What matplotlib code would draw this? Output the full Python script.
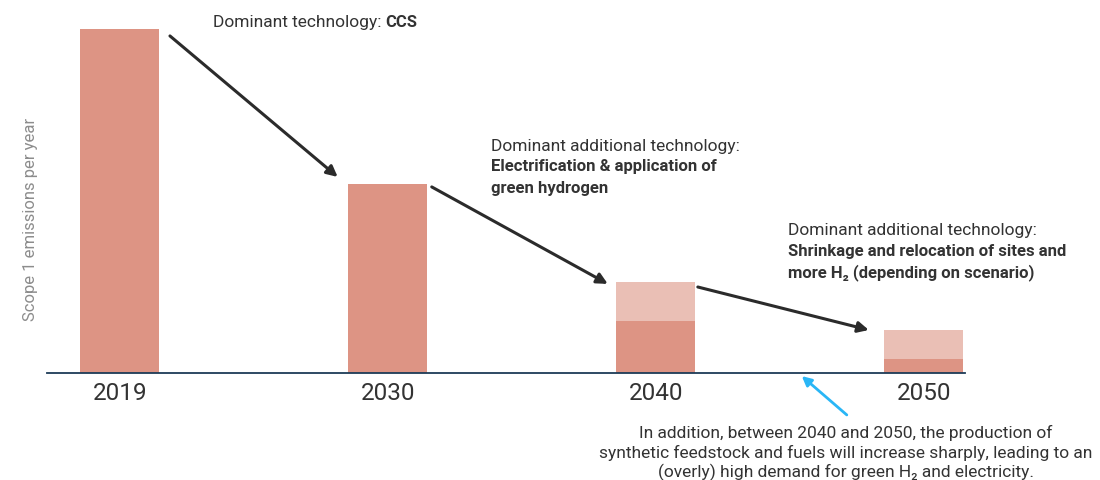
import numpy as np
import matplotlib.pyplot as plt

plt.rcParams['font.family'] = ['Roboto', 'DejaVu Sans']

# data (2019 = 100)
years = ["2019", "2030", "2040", "2050"]
base = [100, 55, 15, 4]
upper = [0, 0, 11.5, 8.5]   # scenario-dependent extra on top

dark = "#dd9484"
light = "#eabfb5"
txt = "#333333"

fig = plt.figure(figsize=(11, 4.81), dpi=100)
ax = fig.add_axes([0.0427, 0.2225, 0.8343, 0.715])

x = np.arange(len(years))
ax.bar(x, base, width=0.295, color=dark)
ax.bar(x, upper, width=0.295, bottom=base, color=light)

ax.set_xlim(-0.272, 3.153)
ax.set_ylim(0, 100)
for s in ["top", "right", "left"]:
    ax.spines[s].set_visible(False)
ax.spines["bottom"].set_color("#1d3b57")
ax.spines["bottom"].set_linewidth(1.3)
ax.set_yticks([])
ax.set_xticks(x, years, fontsize=17.5, color=txt)
ax.tick_params(axis="x", length=0, pad=6)
ax.set_ylabel("Scope 1 emissions per year", color="#8c8c8c", fontsize=12)
ax.yaxis.set_label_coords(-0.0098, 0.45)

# trend arrows
arrow_kw = dict(arrowstyle="-|>", color="#2b2b2b", lw=2.2, mutation_scale=16,
                shrinkA=0, shrinkB=0)
ax.annotate("", xy=(0.813, 57.0), xytext=(0.187, 98.0), arrowprops=arrow_kw)
ax.annotate("", xy=(1.821, 25.9), xytext=(1.164, 54.1), arrowprops=arrow_kw)
ax.annotate("", xy=(2.795, 12.5), xytext=(2.157, 25.0), arrowprops=arrow_kw)
ax.annotate("", xy=(2.545, -0.9), xytext=(2.713, -12.2), annotation_clip=False,
            arrowprops=dict(arrowstyle="-|>", color="#29b6f6", lw=2.0,
                            mutation_scale=14, shrinkA=0, shrinkB=0))

fs = 12.5
fb = 12
t1 = ax.text(0.347, 102.3, "Dominant technology: ", fontsize=fs, color=txt,
             va="center", clip_on=False)
ax.annotate("CCS", xy=(1, 0.5), xycoords=t1, va="center", ha="left",
            fontsize=fb, color=txt, fontweight="bold")

ax.text(1.384, 66.0, "Dominant additional technology:", fontsize=fs, color=txt, va="center")
ax.text(1.384, 60.2, "Electrification & application of", fontsize=fb, color=txt,
        va="center", fontweight="bold")
ax.text(1.384, 54.0, "green hydrogen", fontsize=fb, color=txt,
        va="center", fontweight="bold")

ax.text(2.493, 41.6, "Dominant additional technology:", fontsize=fs, color=txt, va="center")
ax.text(2.493, 35.5, "Shrinkage and relocation of sites and", fontsize=fb, color=txt,
        va="center", fontweight="bold")
ax.text(2.493, 29.4, "more H\u2082 (depending on scenario)", fontsize=fb, color=txt,
        va="center", fontweight="bold")

note = ["In addition, between 2040 and 2050, the production of",
        "synthetic feedstock and fuels will increase sharply, leading to an",
        "(overly) high demand for green H\u2082 and electricity."]
for line, yy in zip(note, [-17.15, -22.97, -28.5]):
    ax.text(2.709, yy, line, fontsize=fs, color=txt, ha="center", va="center",
            clip_on=False)

fig.savefig("out.png", dpi=100)
